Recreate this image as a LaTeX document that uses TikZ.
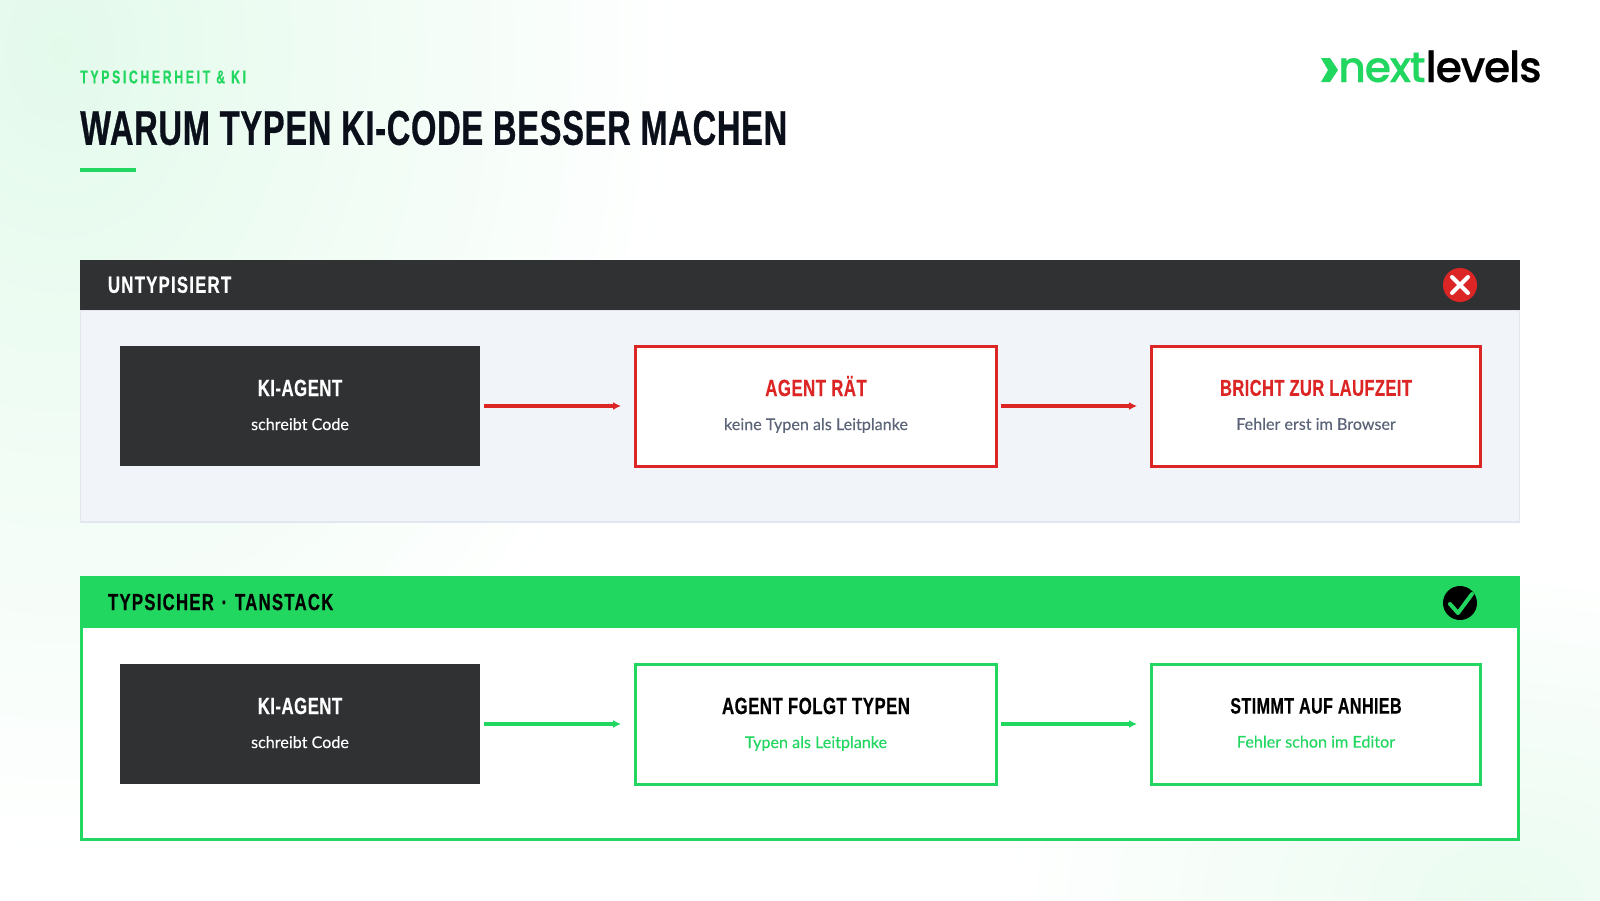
\documentclass[tikz,border=0pt]{standalone}
\usepackage{fontspec}
\usepackage{tikz}
\usetikzlibrary{arrows.meta}

\newfontfamily\condfont[FakeStretch=0.72,LetterSpace=1.8,FakeBold=0.3]{Liberation Sans}
\newfontfamily\titlefont[FakeStretch=0.67,LetterSpace=1.5,FakeBold=0.6]{Liberation Sans}
\newfontfamily\bandfont[FakeStretch=0.72,LetterSpace=5.2,WordSpace=0.7,FakeBold=0.4]{Liberation Sans}
\newfontfamily\eyebrowfont[FakeStretch=0.66,LetterSpace=14,FakeBold=0.3]{Liberation Sans}
\newfontfamily\subfont[FakeBold=0.15]{Lato}
\newfontfamily\logofont[LetterSpace=-3,FakeBold=0.3]{Poppins Medium}

\definecolor{nlgreen}{HTML}{22D760}
\definecolor{nlred}{HTML}{DC2626}
\definecolor{nldark}{HTML}{2F3133}
\definecolor{nlink}{HTML}{0A0F1A}
\definecolor{nlgrey}{HTML}{5B6478}
\definecolor{panelbg}{HTML}{F1F4F9}
\definecolor{panelline}{HTML}{E2E6EE}
\definecolor{glow}{HTML}{E3FAEB}

\newcommand{\boxhead}[2][17.6pt]{{\condfont\bfseries\fontsize{#1}{20pt}\selectfont\vphantom{Ä}#2}}
\newcommand{\boxsub}[1]{{\subfont\fontsize{12.1pt}{14pt}\selectfont\rule[-4.5pt]{0pt}{4.5pt}#1}}

\begin{document}
\begin{tikzpicture}[x=0.75pt, y=-0.75pt, node distance=387pt,
	panel node/.style={rectangle,anchor=north west,outer sep=0pt,inner sep=0pt,minimum width=1080pt},
	head node/.style={panel node,minimum height=38pt,text width=1038pt,inner xsep=21pt,align=left,font=\bandfont\bfseries\fontsize{17.5pt}{20pt}\selectfont},
	main node/.style={rectangle,outer sep=0pt,inner sep=0pt,minimum height=90pt,align=center},
	dark node/.style={main node,fill=nldark,text=white,minimum width=270pt},
	red node/.style={main node,draw=nlred,line width=2.25pt,fill=white,text=nlred},
	green node/.style={main node,draw=nlgreen,line width=2.25pt,fill=white,text=black},
	red arrow/.style={draw=nlred,line width=2.6pt,-{Latex[length=6pt,width=6pt]},shorten <=3pt,shorten >=10.7pt},
	green arrow/.style={draw=nlgreen,line width=2.6pt,-{Latex[length=6pt,width=6pt]},shorten <=3pt,shorten >=10.7pt},
	icon node/.style={circle,minimum size=25.5pt,inner sep=0pt}]
	
	\useasboundingbox (0,0) rectangle (1600,900);
	\begin{scope}
	\clip (0,0) rectangle (1600,900);
	\fill[white] (0,0) rectangle (1600,900);
	\shade[inner color=glow,outer color=white] (-560,-760) rectangle (680,860);
	\shade[inner color=glow!75!white,outer color=white] (1000,560) rectangle (2000,1240);
	\end{scope}
	
	% title block
	\node[anchor=west,inner sep=0pt,text=nlgreen] (eyebrow) at (80,77) {\eyebrowfont\bfseries\fontsize{14pt}{16pt}\selectfont TYPSICHERHEIT \& KI};
	\node[anchor=west,inner sep=0pt,text=nlink] (title) at (80,128) {\titlefont\bfseries\fontsize{36.5pt}{40pt}\selectfont WARUM TYPEN KI-CODE BESSER MACHEN};
	\node[panel node,fill=nlgreen,minimum width=42pt,minimum height=3pt] (bar) at (80,168) {};
	
	% logo
	\fill[nlgreen] (1321,58) -- (1330,58) -- (1338,70) -- (1330,82) -- (1321,82) -- (1328,70) -- cycle;
	\node[anchor=base west,inner sep=0pt] (logo) at (1338,82) {\logofont\fontsize{32pt}{36pt}\selectfont\textcolor{nlgreen}{next}\textcolor{black}{levels}};
	
	% untyped row
	\node[panel node,fill=panelbg,draw=panelline,line width=1.1pt,minimum width=1079pt,minimum height=159pt] (bodya) at (80.7,310) {};
	\node[head node,fill=nldark,text=white,minimum height=37.9pt] (heada) at (80,259.5) {UNTYPISIERT};
	\node[icon node,fill=nlred] (iconx) at (1460,285) {};
	\draw[white,line width=3pt,line cap=round] ([shift={(-8,-8)}]iconx.center) -- ([shift={(8,8)}]iconx.center);
	\draw[white,line width=3pt,line cap=round] ([shift={(-8,8)}]iconx.center) -- ([shift={(8,-8)}]iconx.center);
	
	\node[dark node] (a) at (300,406) {\boxhead{KI-AGENT}\\[13.5pt]\boxsub{schreibt Code}};
	\node[red node,minimum width=271pt] (b) [right of=a] {\boxhead{AGENT RÄT}\\[13.5pt]{\color{nlgrey}\boxsub{keine Typen als Leitplanke}}};
	\node[red node,minimum width=247pt] (c) at (1316,406) {\boxhead[17.2pt]{BRICHT ZUR LAUFZEIT}\\[13.5pt]{\color{nlgrey}\boxsub{Fehler erst im Browser}}};
	
	\path[red arrow] (a) -- (b);
	\path[red arrow] (b) -- (c);
	
	% typed row
	\node[panel node,fill=white,draw=nlgreen,line width=2.25pt,minimum width=1077.75pt,minimum height=160pt] (bodyb) at (81.5,626) {};
	\node[head node,fill=nlgreen,text=black,minimum height=38.6pt] (headb) at (80,576.3) {TYPSICHER · TANSTACK};
	\node[icon node,fill=black] (iconv) at (1460,603) {};
	\draw[nlgreen,line width=3pt,line cap=round,line join=round] ([shift={(-10,1)}]iconv.center) -- ([shift={(-2,10)}]iconv.center) -- ([shift={(12,-9)}]iconv.center);
	
	\node[dark node] (d) at (300,724) {\boxhead{KI-AGENT}\\[13.5pt]\boxsub{schreibt Code}};
	\node[green node,minimum width=271pt] (e) [right of=d] {\boxhead{AGENT FOLGT TYPEN}\\[13.5pt]{\color{nlgreen}\boxsub{Typen als Leitplanke}}};
	\node[green node,minimum width=247pt] (f) at (1316,724) {\boxhead[16.8pt]{STIMMT AUF ANHIEB}\\[13.5pt]{\color{nlgreen}\boxsub{Fehler schon im Editor}}};
	
	\path[green arrow] (d) -- (e);
	\path[green arrow] (e) -- (f);
\end{tikzpicture}
\end{document}
